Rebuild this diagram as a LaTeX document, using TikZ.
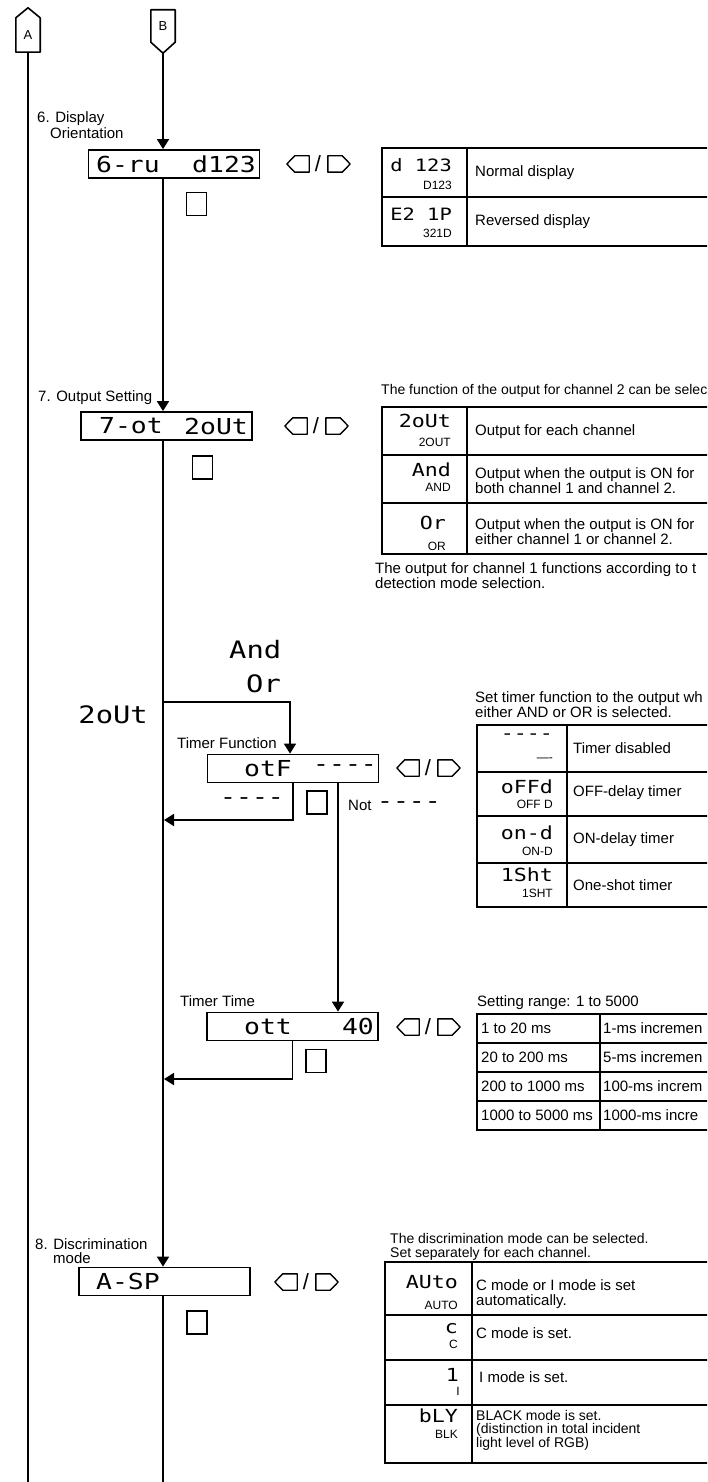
\documentclass[tikz,border=0pt]{standalone}
\usepackage{fontspec}
\setmainfont{Liberation Sans}
\newfontfamily\segfont[FakeStretch=1.2]{DejaVu Sans Mono}
\usetikzlibrary{arrows.meta}
\tikzset{
 flow/.style={line width=1.8pt},
 arr/.style={line width=1.8pt,-{Triangle[width=12pt,length=10pt]}},
 disp/.style={draw,line width=1.8pt,minimum width=171pt,minimum height=28pt,inner sep=0pt},
 btn/.style={draw,line width=1.4pt,minimum width=20pt,minimum height=23pt,inner sep=0pt},
 keybox/.style={minimum width=22pt,minimum height=16pt,inner sep=0pt},
 keyline/.style={line width=1.4pt,line join=round},
 slash/.style={inner sep=0pt,font=\fontsize{22}{22}\selectfont},
 conbody/.style={minimum width=24pt,inner sep=0pt,font=\fontsize{13}{13}\selectfont},
 conline/.style={line width=1.6pt,line join=round},
 lbl/.style={inner sep=0pt,anchor=west,font=\fontsize{15}{15}\selectfont,align=left},
 captxt/.style={lbl,font=\fontsize{14}{14.5}\selectfont},
 flbl/.style={lbl,font=\fontsize{15}{14}\selectfont},
 seg/.style={inner sep=0pt,font=\segfont\fontsize{22}{22}\selectfont},
 bigseg/.style={inner sep=0pt,font=\segfont\fontsize{24}{24}\selectfont},
 segt/.style={inner sep=0pt,anchor=east,font=\segfont\fontsize{18}{18}\selectfont},
 segs/.style={segt,font=\segfont\fontsize{17}{17}\selectfont},
 sm/.style={inner sep=0pt,anchor=east,font=\fontsize{12}{12}\selectfont},
 tbl/.style={line width=1.6pt},
}
\newcommand\kpair[3]{%
 \node[keybox] (#1l) at ({#2+11},#3) {};
 \draw[keyline] (#1l.west) -- ([xshift=8pt]#1l.north west) -- (#1l.north east) -- (#1l.south east) -- ([xshift=8pt]#1l.south west) -- cycle;
 \node[slash] (#1s) at ({#2+31},#3) {/};
 \node[keybox] (#1r) at ({#2+52},#3) {};
 \draw[keyline] (#1r.east) -- ([xshift=-8pt]#1r.north east) -- (#1r.north west) -- (#1r.south west) -- ([xshift=-8pt]#1r.south east) -- cycle;
}
\begin{document}
\begin{tikzpicture}[x=1pt,y=-1pt]
\useasboundingbox (0,0) rectangle (707,1482);
\clip (0,0) rectangle (707,1482);
\fill[white] (0,0) rectangle (707,1482);

% connectors A and B
\node[conbody,minimum height=34pt] (A) at (28,35) {A};
\draw[conline] (A.south west) -- (A.north west) -- ([yshift=10pt]A.north) -- (A.north east) -- (A.south east) -- cycle;
\node[conbody,minimum height=32pt] (B) at (163,26) {B};
\draw[conline] (B.north west) -- (B.south west) -- ([yshift=-11pt]B.south) -- (B.south east) -- (B.north east) -- cycle;
\coordinate (bot) at (163,1490);
\draw[flow] (A.south) -- (A.south |- bot);

% ---------- 6. Display orientation
\node[flbl] (l6a) at (37,119) {6. Display};
\node[flbl] (l6b) at (50,133) {Orientation};
\node[disp] (d6) at (174,164) {};
\node[seg,anchor=west] (d6t1) at (96,164) {6-ru};
\node[seg,anchor=east] (d6t2) at (256,164) {d123};
\kpair{k6}{287}{164}
\node[btn] (b6) at (196.5,204) {};
\draw[arr] ([yshift=-11pt]B.south) -- (B.south |- d6.north);

% table 1
\draw[tbl] (382,148) rectangle (715,246);
\draw[tbl] (382,197) -- (715,197);
\draw[tbl] (467,148) -- (467,246);
\node[segs] (t1a) at (452,165) {d 123};
\node[sm] (t1as) at (452,185) {D123};
\node[lbl] (t1at) at (475,173) {Normal display};
\node[segs] (t1b) at (452,214) {E2 1P};
\node[sm] (t1bs) at (452,233) {321D};
\node[lbl] (t1bt) at (475,222) {Reversed display};

% ---------- 7. Output setting
\node[flbl] (l7) at (38,398) {7. Output Setting};
\node[disp] (d7) at (166.5,426) {};
\node[seg,anchor=west] (d7t1) at (99,426) {7-ot};
\node[seg,anchor=east] (d7t2) at (248,426) {2oUt};
\kpair{k7}{285}{426}
\node[btn] (b7) at (202.5,467.5) {};
\draw[arr] (B.south |- d6.south) -- (B.south |- d7.north);

% table 2
\node[captxt] (c2) at (381,391) {The function of the output for channel 2 can be selec};
\draw[tbl] (382,407) rectangle (715,554);
\draw[tbl] (382,455) -- (715,455);
\draw[tbl] (382,503) -- (715,503);
\draw[tbl] (467,407) -- (467,554);
\node[segt] (t2a) at (451,421) {2oUt};
\node[sm] (t2as) at (451,442) {2OUT};
\node[lbl] (t2at) at (475,432) {Output for each channel};
\node[segt] (t2b) at (451,470) {And};
\node[sm] (t2bs) at (451,487) {AND};
\node[lbl] (t2bt) at (475,481) {Output when the output is ON for\\both channel 1 and channel 2.};
\node[segt] (t2c) at (446,523) {Or};
\node[sm] (t2cs) at (446,546) {OR};
\node[lbl] (t2ct) at (475,532) {Output when the output is ON for\\either channel 1 or channel 2.};
\node[lbl] (n2) at (375,576) {The output for channel 1 functions according to t\\detection mode selection.};

% ---------- branch: timer function
\node[bigseg,anchor=west] (lAnd) at (229,650) {And};
\node[bigseg,anchor=west] (lOr) at (246,684) {Or};
\node[bigseg,anchor=east] (l2out) at (148,715) {2oUt};
\node[flbl] (ltf) at (177,743) {Timer Function};
\node[disp] (tf) at (293,768.5) {};
\node[seg,anchor=west] (tft1) at (244,768.5) {otF};
\node[seg,anchor=east] (tft2) at (377,768.5) {----};
\kpair{ktf}{397}{768}
\node[btn] (btf) at (317,802.5) {};
\node[seg,anchor=east] (ldash) at (284,801) {----};
\node[lbl] (lnot) at (348,805) {Not};
\node[seg,anchor=west] (lnotd) at (377,805) {----};
\coordinate (br) at (163,702);
\coordinate (j1) at (164,820);
\draw[arr] (br) -| ([xshift=-3pt]tf.north);
\draw[arr] (tf.south) |- (j1);

% timer table
\node[lbl] (c3) at (475,705) {Set timer function to the output wh\\either AND or OR is selected.};
\draw[tbl] (477,725) rectangle (715,907);
\draw[tbl] (477,772) -- (715,772);
\draw[tbl] (477,816) -- (715,816);
\draw[tbl] (477,863) -- (715,863);
\draw[tbl] (567,725) -- (567,907);
\node[segt] (t3a) at (553,737) {----};
\node[sm] (t3as) at (553,760) {----};
\node[lbl] (t3at) at (573,748) {Timer disabled};
\node[segt] (t3b) at (553,787) {oFFd};
\node[sm] (t3bs) at (553,804) {OFF D};
\node[lbl] (t3bt) at (573,793) {OFF-delay timer};
\node[segt] (t3c) at (553,833) {on-d};
\node[sm] (t3cs) at (553,851) {ON-D};
\node[lbl] (t3ct) at (573,840) {ON-delay timer};
\node[segt] (t3d) at (553,875) {1Sht};
\node[sm] (t3ds) at (553,893) {1SHT};
\node[lbl] (t3dt) at (573,885) {One-shot timer};

% ---------- timer time
\node[flbl] (ltt) at (180,1001) {Timer Time};
\node[disp] (tt) at (292.5,1026.5) {};
\node[seg,anchor=west] (ttt1) at (244,1026.5) {ott};
\node[seg,anchor=east] (ttt2) at (374,1026.5) {40};
\kpair{ktt}{397}{1027}
\node[btn] (btt) at (316,1061) {};
\coordinate (j2) at (164,1079);
\draw[arr] ([xshift=45pt]tf.south) -- ([xshift=45pt]tf.south |- tt.north);
\draw[arr] (tt.south) |- (j2);

% range table
\node[lbl] (c4) at (477,1003) {Setting range: 1 to 5000};
\draw[tbl] (477,1014) rectangle (715,1130);
\draw[tbl] (477,1043) -- (715,1043);
\draw[tbl] (477,1072) -- (715,1072);
\draw[tbl] (477,1101) -- (715,1101);
\draw[tbl] (600,1014) -- (600,1130);
\node[lbl] (r1a) at (481,1028.5) {1 to 20 ms};
\node[lbl] (r1b) at (603,1028.5) {1-ms incremen};
\node[lbl] (r2a) at (481,1057.5) {20 to 200 ms};
\node[lbl] (r2b) at (603,1057.5) {5-ms incremen};
\node[lbl] (r3a) at (481,1086.5) {200 to 1000 ms};
\node[lbl] (r3b) at (603,1086.5) {100-ms increm};
\node[lbl] (r4a) at (481,1115.5) {1000 to 5000 ms};
\node[lbl] (r4b) at (603,1115.5) {1000-ms incre};

% ---------- 8. Discrimination mode
\node[flbl] (l8a) at (35,1244) {8. Discrimination};
\node[flbl] (l8b) at (53,1258) {mode};
\node[disp] (d8) at (164.5,1281.5) {};
\node[seg,anchor=west] (d8t) at (96,1281.5) {A-SP};
\kpair{k8}{275}{1282}
\node[btn] (b8) at (197,1322.5) {};
\draw[arr] (B.south |- d7.south) -- (B.south |- d8.north);
\draw[flow] (B.south |- d8.south) -- (B.south |- bot);

% discrimination table
\node[captxt] (c5) at (390,1247) {The discrimination mode can be selected.\\Set separately for each channel.};
\draw[tbl] (385,1262) rectangle (715,1463);
\draw[tbl] (385,1315) -- (715,1315);
\draw[tbl] (385,1360) -- (715,1360);
\draw[tbl] (385,1405) -- (715,1405);
\draw[tbl] (472,1262) -- (472,1463);
\node[segt] (t5a) at (458,1282) {AUto};
\node[sm] (t5as) at (458,1305) {AUTO};
\node[lbl] (t5at) at (476,1294) {C mode or I mode is set\\automatically.};
\node[segt] (t5b) at (458,1329) {c};
\node[sm] (t5bs) at (458,1344) {C};
\node[lbl] (t5bt) at (476,1333) {C mode is set.};
\node[segt] (t5c) at (459,1375) {1};
\node[sm] (t5cs) at (460,1391) {I};
\node[lbl] (t5ct) at (479,1377) {I mode is set.};
\node[segt] (t5d) at (458,1416) {bLY};
\node[sm] (t5ds) at (458,1434) {BLK};
\node[lbl,font=\fontsize{14}{13.5}\selectfont] (t5dt) at (476,1430) {BLACK mode is set.\\(distinction in total incident\\light level of RGB)};
\end{tikzpicture}
\end{document}
